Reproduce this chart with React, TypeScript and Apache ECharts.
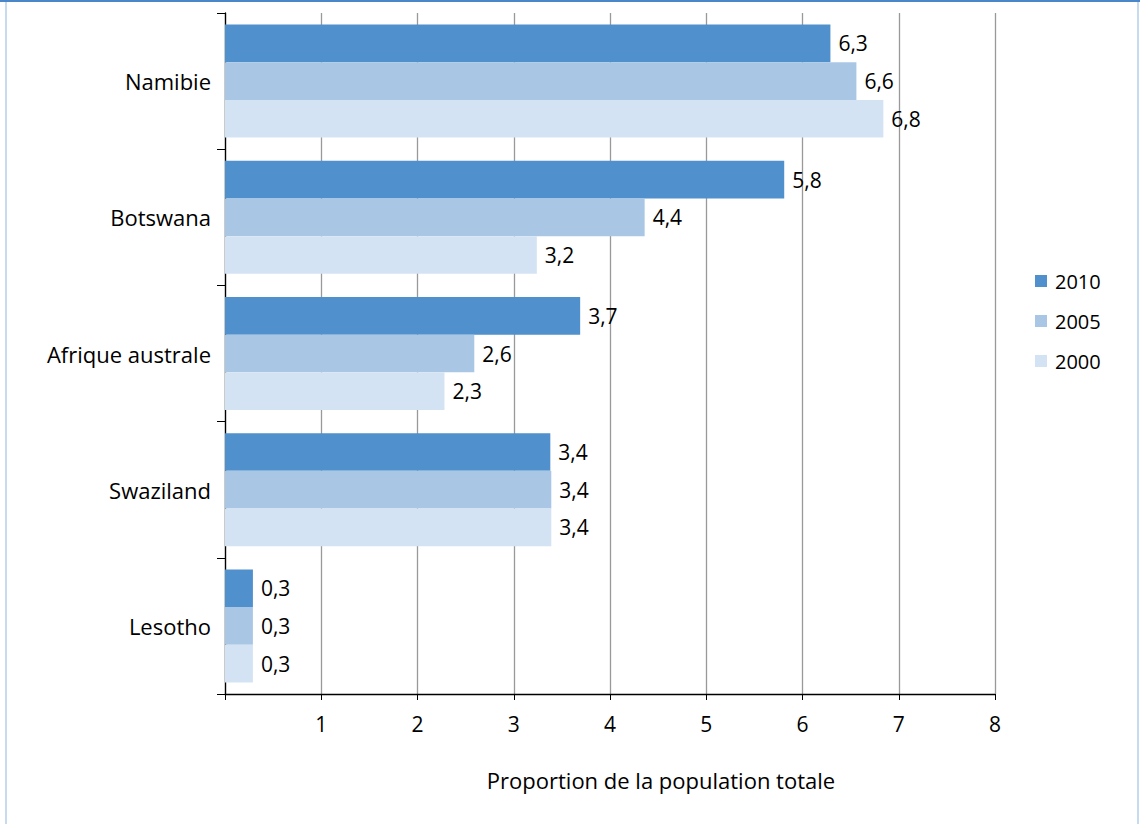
import React, { useEffect, useRef } from "react";
import * as echarts from "echarts";

const categories = ["Namibie", "Botswana", "Afrique australe", "Swaziland", "Lesotho"];
const years = ["2010", "2005", "2000"];
const values2010 = [6.29, 5.81, 3.69, 3.38, 0.29];
const values2005 = [6.56, 4.36, 2.59, 3.39, 0.29];
const values2000 = [6.84, 3.24, 2.28, 3.39, 0.29];
const colors = ["#4f90cd", "#a9c7e5", "#d4e3f3"];
const xTicks = [0, 1, 2, 3, 4, 5, 6, 7, 8];
const axisTitle = "Proportion de la population totale";

const FONT = "Open Sans";

export default function App() {
  const ref = useRef<HTMLDivElement>(null);
  useEffect(() => {
    if (!ref.current) return;
    const chart = echarts.init(ref.current, undefined, { renderer: "svg" });
    const seriesValues = [values2010, values2005, values2000];
    chart.setOption({
      animation: false,
      backgroundColor: "#ffffff",
      textStyle: { fontFamily: FONT },
      grid: { left: 225, right: 145, top: 13, bottom: 130, containLabel: false },
      legend: {
        orient: "vertical",
        left: 1030,
        top: 266,
        itemWidth: 12,
        itemHeight: 12,
        itemGap: 20,
        icon: "rect",
        data: years,
        textStyle: { fontFamily: FONT, fontSize: 20, color: "#000", padding: [0, 0, 0, 3] },
      },
      xAxis: {
        type: "value",
        min: xTicks[0],
        max: xTicks[xTicks.length - 1],
        interval: 1,
        axisLine: { show: true, lineStyle: { color: "#000", width: 1.3 } },
        axisTick: { show: true, length: 6, lineStyle: { color: "#000" } },
        axisLabel: {
          fontFamily: FONT,
          fontSize: 21,
          color: "#000",
          margin: 19,
          formatter: (v: number) => (v === 0 ? "" : String(v)),
        },
        splitLine: { show: true, lineStyle: { color: "#999", width: 1.3 } },
      },
      yAxis: {
        type: "category",
        data: categories,
        inverse: true,
        axisLine: { show: true, lineStyle: { color: "#000", width: 1.3 } },
        axisTick: { show: true, length: 8, lineStyle: { color: "#000" } },
        axisLabel: { fontFamily: FONT, fontSize: 22, color: "#000", margin: 14 },
        splitLine: { show: false },
      },
      series: years.map((y, i) => ({
        name: y,
        type: "bar",
        data: seriesValues[i],
        barGap: "0%",
        barCategoryGap: "17%",
        itemStyle: { color: colors[i] },
        label: {
          show: true,
          position: "right",
          distance: 8,
          fontFamily: FONT,
          fontSize: 21,
          color: "#000",
          formatter: (p: any) => Number(p.value).toFixed(1).replace(".", ","),
        },
      })),
      graphic: [
        {
          type: "text",
          x: 661,
          y: 780,
          style: {
            text: axisTitle,
            font: `22px "${FONT}"`,
            fill: "#000",
            align: "center",
            verticalAlign: "middle",
          },
        },
        { type: "rect", shape: { x: 0, y: 0, width: 1140, height: 2 }, style: { fill: "#4a86c8" } },
        { type: "rect", shape: { x: 5, y: 2, width: 2, height: 822 }, style: { fill: "#c6dbf0" } },
        { type: "rect", shape: { x: 1137, y: 2, width: 2, height: 822 }, style: { fill: "#c6dbf0" } },
      ],
    });
    return () => chart.dispose();
  }, []);
  return (
    <div
      ref={ref}
      style={{ position: "fixed", left: 0, top: 0, width: 1140, height: 824 }}
    />
  );
}
